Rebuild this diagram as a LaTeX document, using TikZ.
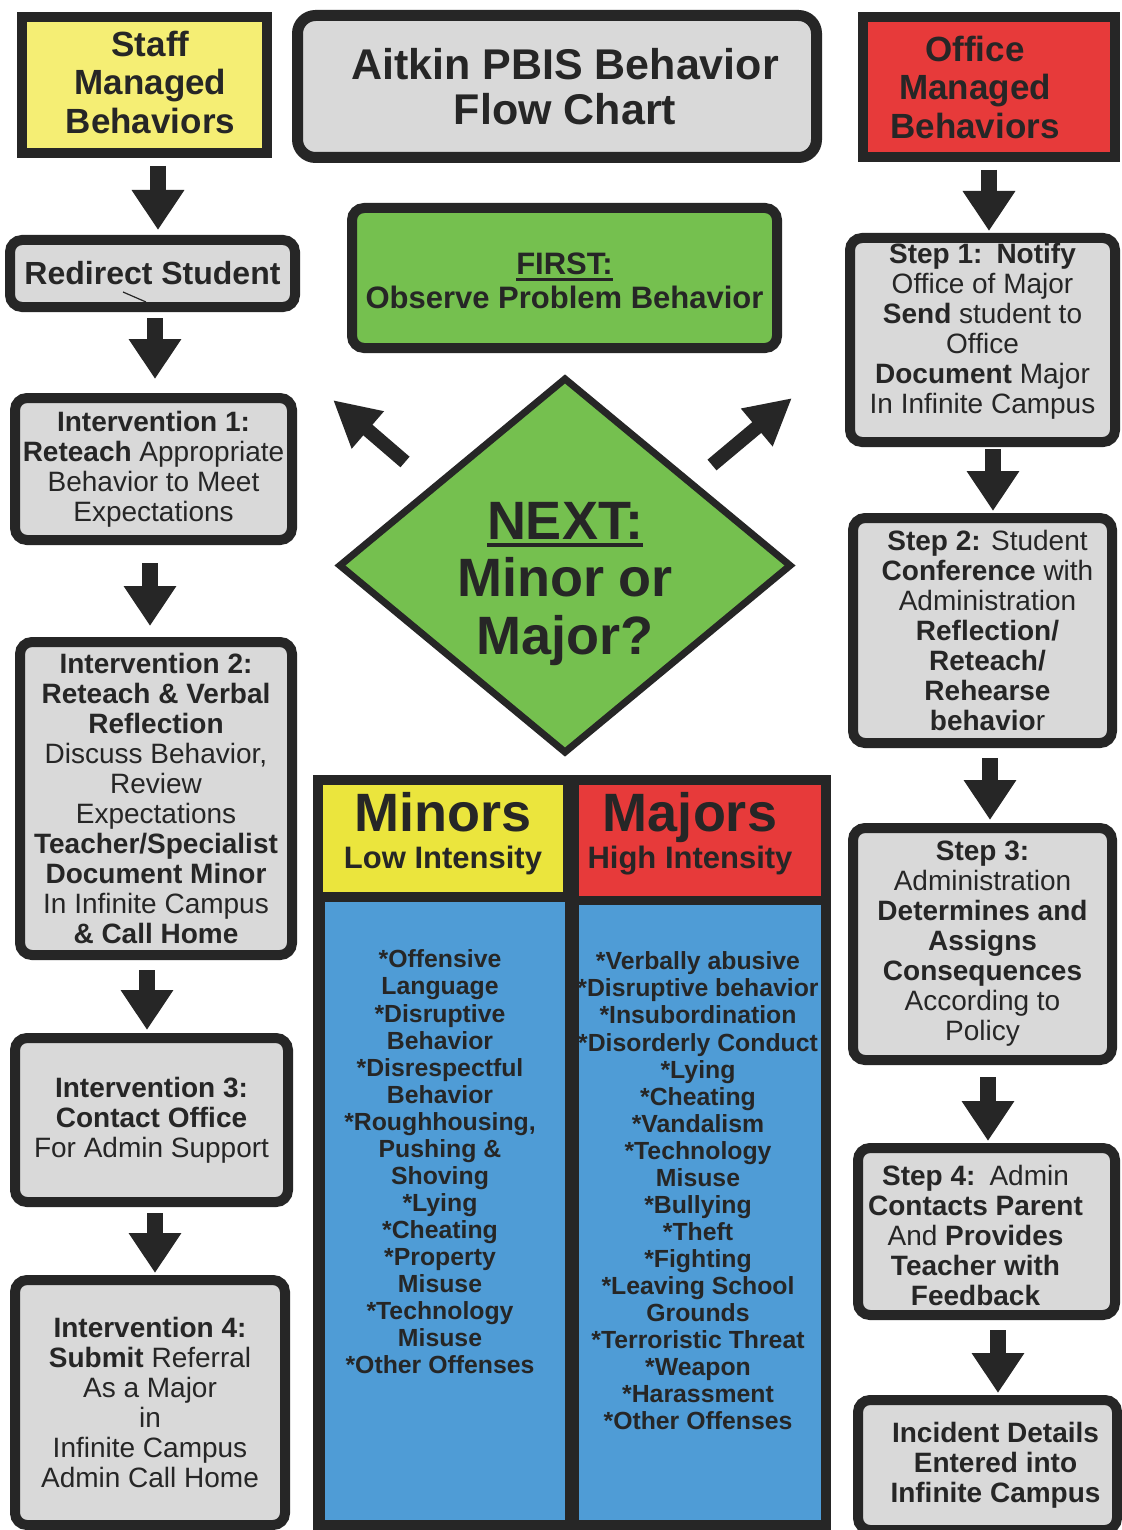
\documentclass[tikz,border=0pt]{standalone}
\usepackage{fontspec}
\setmainfont{Liberation Sans}
\usetikzlibrary{arrows.meta,shapes.geometric}
\definecolor{ink}{HTML}{262626}
\definecolor{staffY}{HTML}{F5EE74}
\definecolor{headY}{HTML}{EBE53D}
\definecolor{redC}{HTML}{E73A3A}
\definecolor{greenC}{HTML}{75C04F}
\definecolor{grayC}{HTML}{D9D9D9}
\definecolor{blueC}{HTML}{4F9CD6}
\newcommand\myul[3]{\setbox0=\hbox{#1}\leavevmode\rlap{\rule[#2]{\wd0}{#3}}\box0}
\begin{document}
\begin{tikzpicture}[x=0.5pt,y=-0.5pt,
  every node/.style={text=ink},
  gbox/.style={draw=ink, fill=grayC, line width=5pt, rounded corners=6pt, inner sep=0pt, align=center, font=\fontsize{14}{15}\selectfont},
  sqbox/.style={draw=ink, line width=5pt, inner sep=0pt, align=center, font=\fontsize{17.5}{19.25}\selectfont\bfseries},
  sqtext/.style={align=center, text=ink, font=\fontsize{17.5}{19.25}\selectfont\bfseries},
  btext/.style={align=center, text=ink, font=\fontsize{14}{15}\selectfont},
  barrow/.style={draw=ink, line width=8pt, -{Triangle[length=20pt,width=25pt]}},
  darrow/.style={draw=ink, line width=7pt, -{Triangle[length=23pt,width=23pt]}},
  cell/.style={inner sep=0pt, draw=none},
  listtext/.style={align=center, inner sep=0pt, font=\fontsize{12.4}{13.53}\selectfont\bfseries}]
\useasboundingbox (0,0) rectangle (1122,1530);
\fill[white] (0,0) rectangle (1122,1530);

% top row
\node[sqbox, fill=staffY, minimum width=122.5pt, minimum height=68pt,
  label={[sqtext, xshift=3pt, yshift=1.5pt]center:{Staff\\Managed\\Behaviors}}] (staff) at (144.5,85) {};
\node[gbox, line width=5.5pt, rounded corners=9pt, minimum width=259.5pt, minimum height=71pt,
  label={[align=center, text=ink, xshift=4pt, font=\fontsize{21.5}{22.5}\selectfont\bfseries]center:{Aitkin PBIS Behavior\\Flow Chart}}] (title) at (557,86.5) {};
\node[sqbox, fill=redC, minimum width=126pt, minimum height=70pt,
  label={[sqtext, xshift=-7pt]center:{Office\\Managed\\Behaviors}}] (office) at (989,87) {};

% left column
\node[gbox, minimum width=142.5pt, minimum height=33.5pt, font=\fontsize{16}{18}\selectfont\bfseries] (redirect) at (152.5,273.5) {Redirect Student};
\draw[ink, line width=0.6pt] (123,292) -- (146,302);
\node[gbox, minimum width=138.5pt, minimum height=71pt] (int1) at (153.5,469) {\textbf{Intervention 1:}\\\textbf{Reteach} Appropriate\\Behavior to Meet\\Expectations};
\node[gbox, minimum width=136pt, minimum height=156.5pt] (int2) at (156,798.5) {\textbf{Intervention 2:}\\\textbf{Reteach \& Verbal}\\\textbf{Reflection}\\Discuss Behavior,\\Review\\Expectations\\\textbf{Teacher/Specialist}\\\textbf{Document Minor}\\In Infinite Campus\\\textbf{\& Call Home}};
\node[gbox, minimum width=136.5pt, minimum height=82pt] (int3) at (151.5,1120) {\textbf{Intervention 3:}\\\textbf{Contact Office}\\For Admin Support};
\node[gbox, minimum width=135pt, minimum height=122.5pt] (int4) at (150,1402.5) {\textbf{Intervention 4:}\\\textbf{Submit} Referral\\As a Major\\in\\Infinite Campus\\Admin Call Home};

% centre
\node[gbox, fill=greenC, minimum width=212.5pt, minimum height=70pt,
  label={[align=center, text=ink, yshift=-1.5pt, font=\fontsize{15.5}{17}\selectfont\bfseries]center:{\myul{FIRST:}{-3pt}{1.1pt}\\Observe Problem Behavior}}] (first) at (564.5,278) {};
\node[diamond, draw=ink, fill=greenC, line width=3.5pt, minimum width=226.5pt, minimum height=188pt, inner sep=0pt] (dia) at (565,565.5) {};
\node[align=center, inner sep=0pt, font=\fontsize{27}{28.75}\selectfont\bfseries] (diatext) at (565,584) {\myul{NEXT:}{-3.6pt}{1.8pt}\\Minor or\\Major?};
\coordinate (lt0) at (405,462);
\coordinate (lt1) at (333,400);
\coordinate (rt0) at (712,465);
\coordinate (rt1) at (792,398);
\draw[darrow] (lt0) -- (lt1);
\draw[darrow] (rt0) -- (rt1);

% table
\node[cell, fill=ink, minimum width=259pt, minimum height=377.5pt] (tbl) at (572,1152.5) {};
\node[cell, fill=headY, minimum width=120pt, minimum height=53.5pt] (minhead) at (443,838.5) {};
\node[cell, fill=redC, minimum width=121pt, minimum height=55.5pt] (majhead) at (700,840.5) {};
\node[cell, fill=blueC, minimum width=120pt, minimum height=309pt] (minbody) at (445,1211) {};
\node[cell, fill=blueC, minimum width=121pt, minimum height=307.5pt] (majbody) at (700,1212.5) {};
\node[align=center, inner sep=0pt, font=\fontsize{15.5}{18.5}\selectfont\bfseries] (mintitle) at (443,834) {{\fontsize{27}{18.5}\selectfont Minors}\\Low Intensity};
\node[align=center, inner sep=0pt, font=\fontsize{15.5}{18.5}\selectfont\bfseries] (majtitle) at (690,834) {{\fontsize{27}{18.5}\selectfont Majors}\\High Intensity};
\node[listtext] (minlist) at (440,1162) {*Offensive\\Language\\*Disruptive\\Behavior\\*Disrespectful\\Behavior\\*Roughhousing,\\Pushing \&\\Shoving\\*Lying\\*Cheating\\*Property\\Misuse\\*Technology\\Misuse\\*Other Offenses};
\begin{scope}
\clip (579,905) rectangle (821,1520);
\node[listtext] (majlist) at (698,1191) {*Verbally abusive\\*Disruptive behavior\\*Insubordination\\*Disorderly Conduct\\*Lying\\*Cheating\\*Vandalism\\*Technology\\Misuse\\*Bullying\\*Theft\\*Fighting\\*Leaving School\\Grounds\\*Terroristic Threat\\*Weapon\\*Harassment\\*Other Offenses};
\end{scope}

% right column
\node[gbox, minimum width=132.5pt, minimum height=102pt,
  label={[btext, yshift=4.5pt]center:{\textbf{Step 1:\enspace Notify}\\Office of Major\\\textbf{Send} student to\\Office\\\textbf{Document} Major\\In Infinite Campus}}] (step1) at (982.5,340) {};
\node[gbox, minimum width=129.5pt, minimum height=112.5pt,
  label={[btext, xshift=2.5pt]center:{\textbf{Step 2:} Student\\\textbf{Conference} with\\Administration\\\textbf{Reflection/}\\\textbf{Reteach/}\\\textbf{Rehearse}\\\textbf{behavio}r}}] (step2) at (982.5,630.5) {};
\node[gbox, minimum width=129.5pt, minimum height=116pt] (step3) at (982.5,944) {\textbf{Step 3:}\\Administration\\\textbf{Determines and}\\\textbf{Assigns}\\\textbf{Consequences}\\According to\\Policy};
\node[gbox, minimum width=128.5pt, minimum height=83.5pt,
  label={[btext, xshift=-5.5pt, yshift=-2pt]center:{\textbf{Step 4:}\enspace Admin\\\textbf{Contacts Parent}\\And \textbf{Provides}\\\textbf{Teacher with}\\\textbf{Feedback}}}] (step4) at (986.5,1231.5) {};
\node[gbox, minimum width=129.5pt, minimum height=65pt,
  label={[btext, xshift=4pt, font=\fontsize{14}{15}\selectfont\bfseries]center:{Incident Details\\Entered into\\Infinite Campus}}] (incident) at (987.5,1465) {};

% vertical block arrows
\coordinate (ax1) at (158,0);
\coordinate (ax2) at (155,0);
\coordinate (ax3) at (150,0);
\coordinate (ax4) at (147,0);
\coordinate (ax5) at (155,0);
\coordinate (bx1) at (989,0);
\coordinate (bx2) at (993,0);
\coordinate (bx3) at (990,0);
\coordinate (bx4) at (988,0);
\coordinate (bx5) at (998,0);
\draw[barrow, shorten <=4pt, shorten >=2.5pt] (staff.south -| ax1) -- (redirect.north -| ax1);
\draw[barrow, shorten <=3pt, shorten >=7pt] (redirect.south -| ax2) -- (int1.north -| ax2);
\draw[barrow, shorten <=9pt, shorten >=5.5pt] (int1.south -| ax3) -- (int2.north -| ax3);
\draw[barrow, shorten <=5pt, shorten >=1.5pt] (int2.south -| ax4) -- (int3.north -| ax4);
\draw[barrow, shorten <=3pt, shorten >=1pt] (int3.south -| ax5) -- (int4.north -| ax5);
\draw[barrow, shorten <=4pt, shorten >=1pt] (office.south -| bx1) -- (step1.north -| bx1);
\draw[barrow, shorten <=1pt, shorten >=1pt] (step1.south -| bx2) -- (step2.north -| bx2);
\draw[barrow, shorten <=5pt, shorten >=1.5pt] (step2.south -| bx3) -- (step3.north -| bx3);
\draw[barrow, shorten <=6pt, shorten >=1pt] (step3.south -| bx4) -- (step4.north -| bx4);
\draw[barrow, shorten <=5pt, shorten >=1pt] (step4.south -| bx5) -- (incident.north -| bx5);
\end{tikzpicture}
\end{document}
